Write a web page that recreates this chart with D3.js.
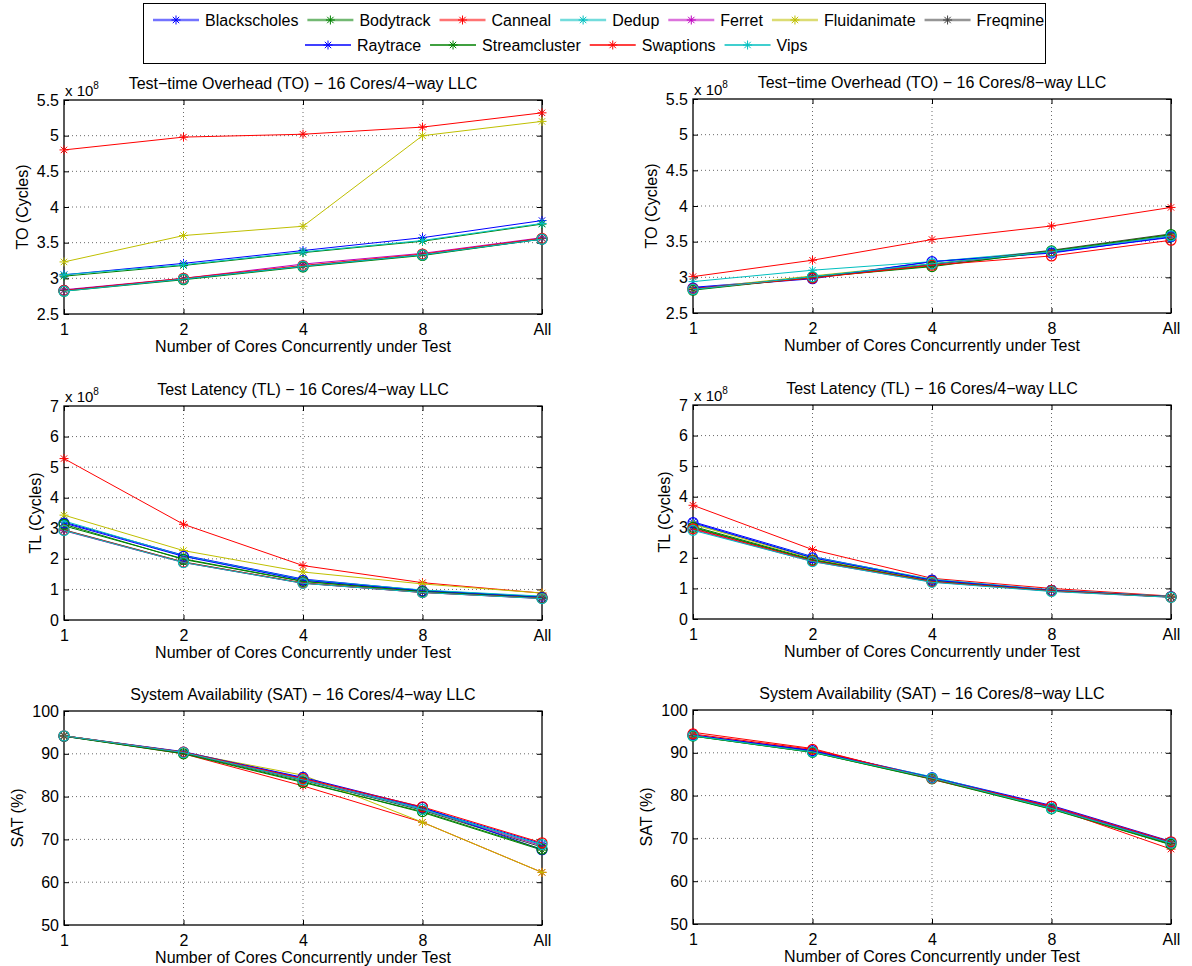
<!DOCTYPE html>
<html>
<head>
<meta charset="utf-8">
<script src="https://cdn.jsdelivr.net/npm/d3@7"></script>
<style>
body { margin: 0; background: #fff; }
svg { font-family: "Liberation Sans", Arial, sans-serif; }
</style>
</head>
<body>
<svg width="1192" height="966"></svg>
<script>
// x categories (cores under test)
var categories = ["1", "2", "4", "8", "All"];

var seriesNames = ["Blackscholes", "Bodytrack", "Canneal", "Dedup", "Ferret", "Fluidanimate",
  "Freqmine", "Raytrace", "Streamcluster", "Swaptions", "Vips"];
// matlab default color order, wraps after 7
var seriesColors = ["#0000ff", "#008000", "#ff0000", "#00bfbf", "#bf00bf", "#bfbf00",
  "#404040", "#0000ff", "#008000", "#ff0000", "#00bfbf"];
var seriesMarkers = ["star", "star", "star", "star", "star", "star", "star",
  "circle", "circle", "circle", "circle"];

// test-time overhead, x 10^8 cycles
var toFourWay = [
  [3.05, 3.21, 3.39, 3.57, 3.81],
  [3.03, 3.18, 3.36, 3.52, 3.76],
  [4.80, 4.98, 5.02, 5.12, 5.32],
  [3.05, 3.19, 3.37, 3.53, 3.77],
  [2.84, 3.00, 3.20, 3.35, 3.57],
  [3.23, 3.60, 3.73, 5.00, 5.20],
  [2.83, 2.99, 3.17, 3.33, 3.56],
  [2.83, 2.99, 3.17, 3.33, 3.55],
  [2.82, 2.98, 3.16, 3.32, 3.55],
  [2.83, 3.00, 3.18, 3.34, 3.56],
  [2.82, 2.99, 3.17, 3.33, 3.55]
];
var toEightWay = [
  [2.86, 2.99, 3.22, 3.35, 3.56],
  [2.83, 3.00, 3.16, 3.36, 3.59],
  [3.01, 3.24, 3.53, 3.72, 3.98],
  [2.94, 3.10, 3.22, 3.37, 3.59],
  [2.84, 3.00, 3.18, 3.36, 3.58],
  [2.84, 3.02, 3.19, 3.37, 3.60],
  [2.83, 3.01, 3.18, 3.38, 3.61],
  [2.85, 2.98, 3.22, 3.34, 3.57],
  [2.82, 3.00, 3.15, 3.37, 3.60],
  [2.84, 2.99, 3.17, 3.30, 3.52],
  [2.83, 3.01, 3.19, 3.36, 3.58]
];
// test latency, x 10^8 cycles
var tlLeft = [
  [3.20, 2.12, 1.34, 0.97, 0.76],
  [3.08, 2.00, 1.27, 0.94, 0.74],
  [5.28, 3.13, 1.78, 1.22, 0.88],
  [3.24, 2.10, 1.32, 0.98, 0.78],
  [2.92, 1.88, 1.20, 0.90, 0.70],
  [3.43, 2.27, 1.57, 1.18, 0.88],
  [2.95, 1.90, 1.21, 0.91, 0.71],
  [3.17, 2.08, 1.30, 0.95, 0.74],
  [3.13, 1.98, 1.26, 0.93, 0.72],
  [2.94, 1.89, 1.21, 0.90, 0.71],
  [2.93, 1.88, 1.20, 0.90, 0.70]
];
var tlRight = [
  [3.18, 2.04, 1.28, 0.95, 0.73],
  [3.03, 1.95, 1.24, 0.93, 0.72],
  [3.72, 2.27, 1.33, 1.00, 0.75],
  [3.12, 2.02, 1.30, 0.95, 0.74],
  [2.93, 1.88, 1.21, 0.91, 0.71],
  [3.10, 1.98, 1.25, 0.94, 0.73],
  [2.98, 1.92, 1.23, 0.92, 0.72],
  [3.15, 2.00, 1.27, 0.94, 0.73],
  [3.00, 1.93, 1.23, 0.92, 0.72],
  [2.95, 1.90, 1.22, 0.92, 0.72],
  [2.90, 1.88, 1.20, 0.90, 0.71]
];
// system availability, %
var satFourWay = [
  [94.2, 90.5, 84.3, 77.3, 69.0],
  [94.1, 90.1, 83.5, 76.3, 67.5],
  [94.2, 90.0, 82.5, 74.0, 62.3],
  [94.2, 90.4, 84.0, 77.2, 68.7],
  [94.2, 90.3, 84.0, 77.0, 68.5],
  [94.2, 90.3, 85.0, 74.0, 62.3],
  [94.2, 90.2, 83.8, 76.8, 68.2],
  [94.1, 90.4, 84.5, 77.5, 67.6],
  [94.1, 90.0, 83.3, 76.5, 67.7],
  [94.2, 90.4, 84.2, 77.6, 69.2],
  [94.2, 90.3, 83.9, 77.0, 68.8]
];
var satEightWay = [
  [94.1, 90.6, 84.3, 77.7, 69.3],
  [93.9, 90.1, 83.8, 76.8, 68.5],
  [94.8, 91.0, 83.8, 77.2, 67.5],
  [94.0, 90.3, 84.4, 77.3, 69.0],
  [94.1, 90.4, 84.1, 77.3, 68.9],
  [94.0, 90.2, 84.0, 77.0, 68.7],
  [94.0, 90.3, 84.0, 77.1, 68.8],
  [94.2, 90.5, 84.2, 77.5, 69.1],
  [93.9, 90.1, 83.9, 76.9, 68.6],
  [94.4, 90.8, 84.0, 77.5, 69.2],
  [94.0, 90.2, 84.1, 77.0, 68.9]
];

var toTicks = [2.5, 3, 3.5, 4, 4.5, 5, 5.5];
var tlTicks = [0, 1, 2, 3, 4, 5, 6, 7];
var satTicks = [50, 60, 70, 80, 90, 100];

var xLabel = "Number of Cores Concurrently under Test";

var panels = [
  { title: "Test\u2212time Overhead (TO) \u2212 16 Cores/4\u2212way LLC", ylabel: "TO (Cycles)", ticks: toTicks, exp: true, values: toFourWay, col: 0, row: 0 },
  { title: "Test\u2212time Overhead (TO) \u2212 16 Cores/8\u2212way LLC", ylabel: "TO (Cycles)", ticks: toTicks, exp: true, values: toEightWay, col: 1, row: 0 },
  { title: "Test Latency (TL) \u2212 16 Cores/4\u2212way LLC", ylabel: "TL (Cycles)", ticks: tlTicks, exp: true, values: tlLeft, col: 0, row: 1 },
  { title: "Test Latency (TL) \u2212 16 Cores/4\u2212way LLC", ylabel: "TL (Cycles)", ticks: tlTicks, exp: true, values: tlRight, col: 1, row: 1 },
  { title: "System Availability (SAT) \u2212 16 Cores/4\u2212way LLC", ylabel: "SAT (%)", ticks: satTicks, exp: false, values: satFourWay, col: 0, row: 2 },
  { title: "System Availability (SAT) \u2212 16 Cores/8\u2212way LLC", ylabel: "SAT (%)", ticks: satTicks, exp: false, values: satEightWay, col: 1, row: 2 }
];

var svg = d3.select("svg");
var fontSize = 16;

// layout of the 3x2 grid
var colLeft = [64, 693];
var colWidth = [478, 478];
var rowTop = [100, 406, 711];
var plotH = 214;

var starPath = "M-4.5,0H4.5M0,-4.5V4.5M-3.2,-3.2L3.2,3.2M-3.2,3.2L3.2,-3.2";

function drawMarker(sel, kind, color) {
  if (kind === "star") {
    sel.append("path").attr("d", starPath)
      .attr("stroke", color).attr("stroke-width", 1).attr("fill", "none");
  } else {
    sel.append("circle").attr("r", 5)
      .attr("stroke", color).attr("stroke-width", 1.2).attr("fill", "none");
  }
}

panels.forEach(function(p) {
  var left = colLeft[p.col];
  var top = rowTop[p.row] - p.col;
  var w = colWidth[p.col];
  var h = plotH;

  var x = d3.scalePoint().domain(categories).range([0, w]);
  var y = d3.scaleLinear().domain(d3.extent(p.ticks)).range([h, 0]);

  var g = svg.append("g").attr("transform", translate(left, top));

  // dotted grid
  g.selectAll("line.vgrid")
    .data(categories.slice(1, -1))
    .enter().append("line")
    .attr("class", "vgrid")
    .attr("x1", function(d) { return x(d); })
    .attr("x2", function(d) { return x(d); })
    .attr("y1", 0).attr("y2", h)
    .attr("stroke", "#444").attr("stroke-width", 0.8)
    .attr("stroke-dasharray", "1,3");
  g.selectAll("line.hgrid")
    .data(p.ticks.slice(1, -1))
    .enter().append("line")
    .attr("class", "hgrid")
    .attr("x1", 0).attr("x2", w)
    .attr("y1", function(d) { return y(d); })
    .attr("y2", function(d) { return y(d); })
    .attr("stroke", "#444").attr("stroke-width", 0.8)
    .attr("stroke-dasharray", "1,3");

  // axes (matlab style: inward ticks, labels outside)
  var xAxis = g.append("g").attr("transform", translate(0, h))
    .call(d3.axisBottom(x).tickSizeInner(-5).tickSizeOuter(0).tickPadding(7));
  var yAxis = g.append("g")
    .call(d3.axisLeft(y).tickValues(p.ticks).tickSizeInner(-5).tickSizeOuter(0).tickPadding(5)
      .tickFormat(function(d) { return String(+d.toFixed(1)); }));
  g.append("g").call(d3.axisTop(x).tickSizeInner(-5).tickSizeOuter(0).tickFormat(""));
  g.append("g").attr("transform", translate(w, 0))
    .call(d3.axisRight(y).tickValues(p.ticks).tickSizeInner(-5).tickSizeOuter(0).tickFormat(""));

  g.selectAll(".domain").remove();
  g.selectAll(".tick line").attr("stroke", "#000");
  g.selectAll(".tick text").attr("font-size", fontSize).attr("font-family", null).attr("fill", "#000");
  xAxis.selectAll(".tick text").attr("dy", "0.9em");
  g.append("rect").attr("width", w).attr("height", h)
    .attr("fill", "none").attr("stroke", "#000").attr("stroke-width", 1.3);

  // series
  p.values.forEach(function(vals, i) {
    var pts = vals.map(function(v, j) { return [x(categories[j]), y(v)]; });
    g.append("path")
      .attr("d", d3.line()(pts))
      .attr("fill", "none")
      .attr("stroke", seriesColors[i])
      .attr("stroke-width", 1);
    pts.forEach(function(pt) {
      var m = g.append("g").attr("transform", translate(pt[0], pt[1]));
      drawMarker(m, seriesMarkers[i], seriesColors[i]);
    });
  });

  // title
  svg.append("text")
    .attr("x", left + w / 2).attr("y", top - 11)
    .attr("text-anchor", "middle")
    .attr("font-size", fontSize)
    .text(p.title);

  // x label
  svg.append("text")
    .attr("x", left + w / 2).attr("y", top + h + 38)
    .attr("text-anchor", "middle")
    .attr("font-size", fontSize)
    .text(xLabel);

  // y label, placed just left of the widest tick label
  var maxW = 0;
  yAxis.selectAll(".tick text").each(function() {
    maxW = Math.max(maxW, this.getComputedTextLength());
  });
  svg.append("text")
    .attr("transform", translate(left - maxW - 14, top + h / 2) + " rotate(-90)")
    .attr("text-anchor", "middle")
    .attr("font-size", fontSize)
    .text(p.ylabel);

  // exponent
  if (p.exp) {
    var ex = svg.append("text")
      .attr("x", left + 1).attr("y", top - 4)
      .attr("font-size", fontSize - 1);
    ex.append("tspan").text("x 10");
    ex.append("tspan").attr("dy", -7).attr("font-size", 10).text("8");
  }
});

// legend
var legend = svg.append("g");
legend.append("rect")
  .attr("x", 143.5).attr("y", 3.5)
  .attr("width", 902).attr("height", 60)
  .attr("fill", "#fff").attr("stroke", "#000").attr("stroke-width", 1);

var legendRows = [
  { start: 153, y: 20, items: d3.range(0, 7) },
  { start: 305, y: 45, items: d3.range(7, 11) }
];
legendRows.forEach(function(r, ri) {
  var cx = r.start;
  r.items.forEach(function(i) {
    var item = legend.append("g").attr("transform", translate(cx, r.y));
    item.append("line")
      .attr("x1", 0).attr("x2", 46)
      .attr("stroke", seriesColors[i])
      .attr("stroke-width", ri === 0 ? 2.5 : 1.3)
      .attr("stroke-opacity", ri === 0 ? 0.55 : 1);
    var m = item.append("g").attr("transform", translate(23, 0));
    drawMarker(m, "star", seriesColors[i]);
    var t = item.append("text")
      .attr("x", 52).attr("dy", "0.35em")
      .attr("font-size", 16)
      .text(seriesNames[i]);
    cx += 52 + t.node().getComputedTextLength() + 9;
  });
});

function translate(x, y) {
  return "translate(" + String(x) + "," + String(y) + ")";
}
</script>
</body>
</html>
